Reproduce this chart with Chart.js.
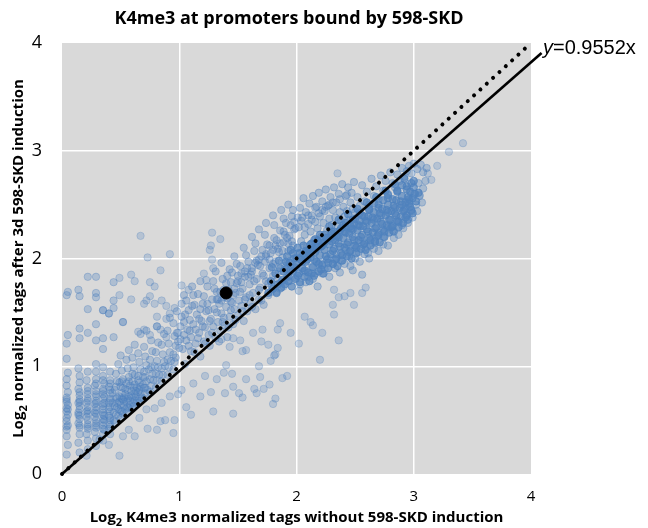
<!DOCTYPE html>
<html><head><meta charset="utf-8">
<script src="https://cdn.jsdelivr.net/npm/chart.js@4.4.1/dist/chart.umd.min.js"></script>
<style>html,body{margin:0;padding:0;background:#fff;}canvas{display:block;}</style>
</head><body>
<canvas id="c" width="648" height="528"></canvas>
<script>
// ---- Data ----
const chartTitle = "K4me3 at promoters bound by 598-SKD";
const xTitle = ["Log", "2", " K4me3 normalized tags without 598-SKD induction"];
const yTitle = ["Log", "2", " normalized tags after 3d 598-SKD induction"];
const fitLabel = ["y", "=0.9552x"];
const tickValues = [0, 1, 2, 3, 4];

// identity line y = x and fitted line y = 0.9552x (end points)
const identityLine = [[0, 0], [4, 4]];
const fitLine = [[0, 0], [4.09, 3.907]];
const highlightPt = [[1.40, 1.68]];

// low-x columns and the low cluster
const lowPts = [
[0.04,0.18],[0.05,0.27],[0.04,0.35],[0.04,0.41],[0.05,0.45],[0.04,0.49],[0.04,0.52],[0.05,0.55],[0.04,0.58],[0.04,0.61],[0.05,0.64],[0.04,0.67],[0.04,0.71],[0.05,0.76],[0.04,0.82],[0.04,0.88],[0.05,0.94],[0.04,1.07],[0.04,1.21],[0.05,1.29],[0.04,1.66],[0.05,1.69],
[0.15,0.2],[0.14,0.29],[0.15,0.37],[0.15,0.43],[0.14,0.47],[0.15,0.51],[0.15,0.54],[0.14,0.57],[0.15,0.6],[0.15,0.63],[0.14,0.66],[0.15,0.69],[0.15,0.73],[0.14,0.79],[0.15,0.85],[0.15,0.91],[0.14,0.98],[0.15,1.26],[0.15,1.35],[0.15,1.65],[0.14,1.71],
[0.22,0.23],[0.22,0.31],[0.21,0.37],[0.22,0.42],[0.22,0.46],[0.22,0.5],[0.21,0.53],[0.22,0.56],[0.22,0.59],[0.22,0.62],[0.21,0.66],[0.22,0.7],[0.22,0.74],[0.22,0.8],[0.21,0.87],[0.22,0.95],[0.22,1.31],[0.22,1.53],[0.22,1.83],
[0.29,0.26],[0.29,0.33],[0.28,0.39],[0.29,0.43],[0.29,0.47],[0.29,0.5],[0.28,0.53],[0.29,0.56],[0.29,0.59],[0.29,0.62],[0.28,0.65],[0.29,0.68],[0.29,0.72],[0.29,0.77],[0.28,0.82],[0.29,0.88],[0.29,0.95],[0.29,1.02],[0.29,1.24],[0.29,1.39],[0.29,1.64],[0.29,1.68],[0.29,1.83],
[0.35,0.31],[0.35,0.37],[0.36,0.41],[0.35,0.45],[0.35,0.48],[0.35,0.51],[0.36,0.54],[0.35,0.57],[0.35,0.6],[0.35,0.63],[0.36,0.66],[0.35,0.7],[0.35,0.74],[0.35,0.79],[0.36,0.84],[0.35,0.91],[0.35,0.99],[0.35,1.16],[0.35,1.26],[0.35,1.52],
[0.41,0.37],[0.4,0.42],[0.41,0.46],[0.41,0.5],[0.4,0.54],[0.41,0.58],[0.41,0.62],[0.4,0.66],[0.41,0.7],[0.41,0.75],[0.4,0.81],[0.41,0.87],[0.41,0.95],[0.4,1.49],[0.44,1.61],[0.44,1.78],[0.44,1.27],[0.44,1.54],
[0.04,0.44],[0.05,0.6],[0.04,0.69],[0.15,0.45],[0.14,0.55],[0.15,0.67],[0.15,0.76],[0.22,0.44],[0.21,0.58],[0.22,0.68],[0.22,0.77],[0.29,0.45],[0.28,0.57],[0.29,0.66],[0.29,0.74],[0.29,0.84],[0.35,0.42],[0.36,0.5],[0.35,0.55],[0.35,0.65],[0.36,0.72],[0.35,0.77],[0.35,0.87],[0.41,0.44],[0.41,0.52],[0.4,0.6],[0.41,0.68],[0.41,0.78],[0.41,0.84],
[0.45,0.48],[0.46,0.55],[0.47,0.62],[0.46,0.7],[0.45,0.78],[0.47,0.86],[0.46,0.93],[0.48,1.02],
[0.5,0.52],[0.51,0.58],[0.5,0.64],[0.52,0.69],[0.51,0.75],[0.5,0.81],[0.52,0.88],[0.51,0.96],[0.5,1.1],[0.52,1.41],
[0.55,0.57],[0.56,0.62],[0.55,0.67],[0.57,0.72],[0.56,0.78],[0.55,0.84],[0.57,0.9],[0.56,0.98],[0.55,1.06],[0.57,1.15],
[0.6,0.61],[0.61,0.66],[0.6,0.71],[0.62,0.75],[0.61,0.8],[0.6,0.86],[0.62,0.92],[0.61,0.99],[0.6,1.08],[0.62,1.2],
[0.65,0.66],[0.66,0.7],[0.65,0.76],[0.67,0.81],[0.66,0.85],[0.65,0.91],[0.67,0.97],[0.66,1.04],[0.65,1.12],[0.67,1.3],
[0.7,0.7],[0.71,0.75],[0.7,0.8],[0.72,0.86],[0.71,0.9],[0.7,0.95],[0.72,1.01],[0.71,1.09],[0.7,1.18],[0.72,1.33],
[0.75,0.76],[0.76,0.82],[0.75,0.88],[0.77,0.93],[0.76,0.99],[0.75,1.06],[0.77,1.14],[0.76,1.24],
[0.8,0.8],[0.81,0.87],[0.8,0.93],[0.82,0.99],[0.81,1.05],[0.8,1.13],[0.82,1.22],[0.81,1.37],
[0.85,0.86],[0.86,0.92],[0.85,0.98],[0.87,1.04],[0.86,1.11],[0.85,1.2],[0.87,1.3],
[0.9,0.92],[0.91,0.99],[0.9,1.06],[0.92,1.13],[0.91,1.21],[0.9,1.33],[0.92,1.45],
[0.95,0.97],[0.96,1.04],[0.95,1.11],[0.97,1.19],[0.96,1.28],[0.95,1.4],
[0.47,0.66],[0.49,0.72],[0.53,0.63],[0.54,0.74],[0.58,0.68],[0.59,0.77],[0.63,0.72],[0.64,0.8],[0.48,0.6],[0.52,0.8],[0.57,0.61],[0.62,0.68],[0.44,0.57],[0.43,0.66],[0.53,0.71],[0.58,0.82],[0.67,0.74],[0.69,0.83],[0.43,0.75],[0.49,0.85],
[0.44,0.5],[0.45,0.63],[0.46,0.81],[0.47,0.71],[0.48,0.54],[0.49,0.67],[0.5,0.59],[0.51,0.7],[0.51,0.86],[0.52,0.56],[0.53,0.67],[0.54,0.79],[0.54,0.6],[0.56,0.7],[0.57,0.86],[0.58,0.64],[0.59,0.73],[0.6,0.93],[0.61,0.63],[0.62,0.83],[0.63,0.77],[0.64,0.68],[0.65,0.87],[0.66,0.78],[0.68,0.71],[0.69,0.9],[0.71,0.8],[0.73,0.78],[0.74,0.97],[0.78,0.87],[0.79,1.0],[0.83,0.92],[0.88,1.0],[0.93,1.05]
];

// scattered outliers around the cloud
const sparsePts = [
[0.21,0.17],[0.32,0.32],[0.4,0.27],[0.49,0.17],[0.52,0.35],[0.57,0.41],[0.62,0.35],[0.66,0.52],[0.73,0.42],[0.79,0.61],[0.81,0.41],[0.84,0.49],[0.88,0.5],[0.95,0.38],[0.96,0.5],[0.99,0.74],[0.72,0.6],[0.92,0.72],[1.02,0.78],[1.06,0.62],[1.12,0.84],[1.18,0.72],[1.22,0.91],[1.27,0.76],[1.29,0.58],[1.32,0.88],[1.1,0.55],[0.85,0.66],
[0.67,2.21],[0.92,2.04],[0.73,2.01],[0.84,1.89],[0.59,1.85],[0.49,1.82],[0.62,1.79],[0.75,1.78],[0.79,1.74],[0.49,1.66],[0.59,1.62],[0.75,1.65],[0.72,1.61],[0.7,1.58],[0.79,1.58],[0.85,1.61],[0.89,1.56],[0.52,1.41],[0.65,1.32],[0.7,1.34],[0.81,1.46],[0.81,1.37],[0.92,1.49],[0.89,1.44],[0.96,1.54],[0.84,1.34],[0.75,1.29],[0.89,1.27],[0.99,1.31],[0.35,1.52],[0.4,1.49],
[1.28,2.24],[1.35,2.18],[1.27,2.12],[1.26,2.08],[1.28,1.99],[1.29,1.91],[1.21,1.86],[1.23,1.8],[1.02,1.75],[1.08,1.71],
[2.59,1.73],[2.56,1.68],[2.49,1.57],[2.46,1.68],[2.41,1.65],[2.36,1.64],[2.32,1.71],[2.31,1.57],[2.32,1.48],[2.36,1.24],[2.22,1.31],[2.2,1.06],[2.12,1.41],[2.14,1.38],[2.07,1.46],[2.02,1.21],[1.95,1.31],[1.89,1.74],[1.84,1.34],[1.81,1.1],[1.78,1.05],[1.84,1.17],[1.76,1.2],[1.68,1.0],[1.69,0.9],[1.77,0.83],[1.72,0.79],[1.64,0.79],[1.66,0.75],[1.57,0.88],[1.54,0.71],[1.51,0.75],[1.45,0.93],[1.39,0.75],[1.46,0.81],[1.4,1.01],[1.38,0.94],[1.88,0.89],[1.92,0.91],[1.82,0.7],[1.8,0.65],[1.46,0.56],[1.63,1.31],[1.7,1.23],[1.71,1.34],[1.57,1.15],[1.54,1.14],[1.52,1.24],[1.46,1.26],[1.36,1.25],[1.43,1.18],[1.86,1.4],[1.82,1.11],
[3.42,3.07],[3.3,2.99],[2.35,2.79],[3.2,2.86],[3.15,2.73],[3.12,2.79],[3.05,2.59]
];

// middle cloud (x 1 to 2.4)
const midPts = [
[0.97,1.08],[0.99,1.23],[1.01,1.37],[0.98,1.51],[1.03,1.16],[1.04,1.29],[1.02,1.46],[1.06,1.61],[1.05,1.02],[1.08,1.19],[1.07,1.34],[1.09,1.43],[1.1,1.27],[1.11,1.56],[1.13,1.13],[1.12,1.39],[1.14,1.21],[1.15,1.48],[1.16,1.67],[1.17,1.31],[1.18,1.09],[1.19,1.42],[1.2,1.58],[1.21,1.23],[1.22,1.36],[1.23,1.51],[1.24,1.74],[1.25,1.29],[1.26,1.19],[1.27,1.44],[1.28,1.62],[1.29,1.37],[1.3,1.53],[1.31,1.26],[1.32,1.69],[1.33,1.41],[1.34,1.58],[1.35,1.33],[1.36,1.49],[1.37,1.81],[1.38,1.64],[1.39,1.38],[1.4,1.55],[1.41,1.27],[1.42,1.71],[1.43,1.46],[1.44,1.6],[1.45,1.87],[1.46,1.39],[1.47,1.53],[1.48,1.68],[1.49,1.77],[1.5,1.47],[1.51,1.61],[1.52,1.93],[1.53,1.56],[1.54,1.72],[1.55,1.42],[1.56,1.83],[1.57,1.64],[1.58,1.51],[1.59,1.97],[1.6,1.76],[1.61,1.59],[1.62,1.88],[1.63,1.68],[1.64,2.07],[1.65,1.53],[1.66,1.81],[1.67,1.94],[1.68,1.62],[1.69,1.73],[1.7,2.02],[1.71,1.86],[1.72,1.57],[1.73,1.97],[1.74,1.79],[1.75,2.13],[1.76,1.66],[1.77,1.91],[1.78,2.05],[1.79,1.74],[1.8,1.84],[1.81,2.19],[1.82,1.97],[1.83,1.69],[1.84,2.09],[1.85,1.88],[1.86,2.26],[1.87,1.78],[1.88,2.01],[1.89,2.15],[1.9,1.93],[1.91,2.33],[1.92,1.84],[1.93,2.07],[1.94,2.21],[1.95,1.98],[1.96,2.39],[1.97,2.12],[1.98,1.91],[1.99,2.28],
[0.98,1.31],[1.0,1.17],[1.02,1.58],[1.04,1.41],[1.06,1.24],[1.08,1.52],[1.1,1.14],[1.12,1.66],[1.14,1.34],[1.16,1.26],[1.18,1.53],[1.2,1.37],[1.22,1.21],[1.24,1.58],[1.26,1.42],[1.28,1.31],[1.3,1.72],[1.32,1.5],[1.34,1.23],[1.36,1.61],[1.38,1.45],[1.4,1.77],[1.42,1.36],[1.44,1.52],[1.46,1.66],[1.48,1.43],[1.5,1.84],[1.52,1.69],[1.54,1.51],[1.56,1.62],[1.58,1.91],[1.6,1.66],[1.62,1.55],[1.64,1.79],[1.66,1.98],[1.68,1.71],[1.7,1.61],[1.72,1.84],[1.74,2.04],[1.76,1.77],[1.78,1.69],[1.8,1.95],[1.82,2.12],[1.84,1.81],[1.86,1.72],[1.88,2.07],[1.9,2.22],[1.92,1.95],[1.94,1.79],[1.96,2.16],[1.98,2.34],
[1.01,1.25],[1.05,1.48],[1.09,1.33],[1.13,1.57],[1.17,1.44],[1.21,1.65],[1.25,1.52],[1.29,1.79],[1.33,1.62],[1.37,1.41],[1.41,1.84],[1.45,1.59],[1.49,1.95],[1.53,1.78],[1.57,2.03],[1.61,1.85],[1.65,2.14],[1.69,1.93],[1.73,2.22],[1.77,1.99],[1.81,2.31],[1.85,2.06],[1.89,2.37],[1.93,2.14],[1.97,2.45],
[1.47,2.02],[1.55,2.1],[1.62,2.2],[1.68,2.27],[1.74,2.33],[1.8,2.4],[1.87,2.45],[1.93,2.5],[1.36,1.96],[1.43,1.9],[1.31,1.88],[1.18,1.79],[1.11,1.74],[1.04,1.66],
[1.32,1.62],[1.38,1.71],[1.44,1.78],[1.5,1.79],[1.56,1.88],[1.62,1.91],[1.68,1.99],[1.74,2.02],[1.8,2.08],[1.86,2.14],[1.92,2.19],[1.98,2.27],[2.04,2.35],[2.1,2.4],[2.16,2.47],[2.22,2.45],[2.28,2.5],[1.35,1.69],[1.41,1.63],[1.47,1.72],[1.53,1.86],[1.59,1.83],[1.65,1.96],[1.71,2.08],[1.77,2.12],[1.83,2.17],[1.89,2.25],[1.95,2.31],[2.01,2.38],[2.07,2.29],[2.13,2.36],[2.19,2.42],[2.25,2.48],[2.31,2.52],[2.37,2.55],[2.43,2.59]
];

// upper and lower flanks of the main band (x 2 to 3.1)
const bandPts = [
[2.01,2.05],[2.02,2.29],[2.03,2.47],[2.04,2.16],[2.05,2.38],[2.06,2.56],[2.07,2.22],[2.08,2.43],[2.09,2.11],[2.1,2.32],[2.11,2.51],[2.12,2.25],[2.13,2.4],[2.14,2.58],[2.15,2.17],[2.16,2.34],[2.17,2.48],[2.18,2.28],[2.19,2.61],[2.2,2.39],[2.21,2.2],[2.22,2.53],[2.23,2.33],[2.24,2.44],[2.25,2.64],[2.26,2.26],[2.27,2.49],[2.28,2.37],[2.29,2.57],[2.3,2.31],[2.31,2.45],[2.32,2.66],[2.33,2.38],[2.34,2.52],[2.35,2.29],[2.36,2.6],[2.37,2.43],[2.38,2.35],[2.39,2.69],[2.4,2.48],[2.41,2.39],[2.42,2.58],[2.43,2.44],[2.44,2.66],[2.45,2.36],[2.46,2.52],[2.47,2.61],[2.48,2.46],[2.49,2.71],[2.5,2.43],[2.52,2.57],[2.54,2.49],[2.56,2.68],[2.58,2.53],[2.6,2.62],[2.62,2.5],[2.64,2.74],[2.66,2.58],[2.68,2.67],[2.7,2.55],[2.72,2.77],[2.74,2.63],[2.76,2.72],[2.78,2.6],[2.8,2.8],[2.82,2.7],[2.84,2.66],[2.86,2.78],[2.88,2.72],[2.9,2.84],[2.92,2.76],[2.94,2.81],[2.96,2.86],[2.98,2.79],[3.0,2.88],[3.03,2.83],[3.06,2.87],[3.08,2.8],[3.11,2.84],
[2.0,1.82],[2.03,1.76],[2.06,1.88],[2.1,1.83],[2.13,1.92],[2.16,1.86],[2.2,1.96],[2.24,1.9],[2.27,2.0],[2.31,1.95],[2.34,2.04],[2.38,1.98],[2.42,2.08],[2.45,2.02],[2.49,2.12],[2.53,2.06],[2.56,2.16],[2.6,2.11],[2.63,2.2],[2.67,2.15],[2.7,2.24],[2.74,2.2],[2.78,2.29],[2.82,2.26],[2.86,2.34],[2.9,2.31],[2.94,2.4],[2.98,2.44],[3.02,2.5],[3.05,2.58],[3.08,2.65],[3.1,2.72],[3.0,2.6],[2.96,2.53],[3.04,2.7],[2.48,1.89],[2.56,1.85],[2.61,2.05],[2.67,2.14],[2.8,2.31],[2.93,2.47],
[2.02,1.7],[2.08,1.78],[2.14,1.81],[2.18,1.74],[2.22,1.86],[2.28,1.83],[2.33,1.91],[2.37,1.87],[2.41,1.95],[2.46,1.93],[2.5,2.0],[2.54,1.97],[2.58,2.04],[2.62,2.0],[2.66,2.09],[2.7,2.07],[2.74,2.13],[2.78,2.12],[2.83,2.19],[2.87,2.22],[2.91,2.28],[2.95,2.33],[2.99,2.38],[3.03,2.44],[3.07,2.52]
];

// saturated core of the main band
const corePts = [
[1.9,1.76],[1.91,1.9],[1.92,2.02],[1.93,1.83],[1.94,1.96],[1.95,2.08],[1.96,1.74],[1.97,1.88],[1.98,2.0],[1.99,1.81],[2.0,1.94],[2.01,2.1],[2.02,1.86],[2.03,1.78],[2.04,2.01],[2.05,1.91],[2.06,2.12],[2.07,1.83],[2.08,1.97],[2.09,2.06],[2.1,1.87],[2.11,1.79],[2.12,2.01],[2.13,2.14],[2.14,1.92],[2.15,1.84],[2.16,2.06],[2.17,1.97],[2.18,2.17],[2.19,1.88],[2.2,2.03],[2.21,2.11],[2.22,1.94],[2.23,1.86],[2.24,2.08],[2.25,2.19],[2.26,1.99],[2.27,1.91],[2.28,2.13],[2.29,2.04],[2.3,2.23],[2.31,1.95],[2.32,2.09],[2.33,2.17],[2.34,2.0],[2.35,1.93],[2.36,2.14],[2.37,2.26],[2.38,2.05],[2.39,1.98],[2.4,2.19],[2.41,2.1],[2.42,2.29],[2.43,2.02],[2.44,2.15],[2.45,2.23],[2.46,2.07],[2.47,2.0],[2.48,2.2],[2.49,2.32],[2.5,2.12],[2.51,2.05],[2.52,2.26],[2.53,2.17],[2.54,2.35],[2.55,2.09],[2.56,2.22],[2.57,2.3],[2.58,2.14],[2.59,2.08],[2.6,2.27],[2.61,2.39],[2.62,2.19],[2.63,2.12],[2.64,2.33],[2.65,2.24],[2.66,2.43],[2.67,2.16],[2.68,2.29],[2.69,2.37],[2.7,2.22],[2.71,2.15],[2.72,2.34],[2.73,2.46],[2.74,2.27],[2.75,2.2],[2.76,2.4],[2.77,2.31],[2.78,2.5],[2.79,2.24],[2.8,2.36],[2.81,2.44],[2.82,2.3],[2.83,2.25],[2.84,2.42],[2.85,2.54],[2.86,2.35],[2.87,2.29],[2.88,2.47],[2.89,2.39],[2.9,2.58],[2.91,2.33],[2.92,2.45],[2.93,2.52],[2.94,2.4],[2.95,2.36],[2.96,2.51],[2.97,2.62],[2.98,2.45],[2.99,2.56],[3.0,2.66],[3.02,2.53],[3.04,2.61],
[1.91,1.97],[1.93,1.79],[1.95,1.89],[1.97,2.05],[1.99,1.92],[2.01,1.84],[2.03,2.05],[2.05,1.97],[2.07,1.89],[2.09,1.99],[2.11,2.08],[2.13,1.86],[2.15,1.99],[2.17,2.11],[2.19,1.95],[2.21,1.9],[2.23,2.15],[2.25,2.02],[2.27,1.96],[2.29,2.19],[2.31,2.07],[2.33,1.99],[2.35,2.21],[2.37,2.11],[2.39,2.03],[2.41,2.25],[2.43,2.13],[2.45,2.06],[2.47,2.28],[2.49,2.17],[2.51,2.1],[2.53,2.31],[2.55,2.2],[2.57,2.13],[2.59,2.35],[2.61,2.25],[2.63,2.17],[2.65,2.38],[2.67,2.28],[2.69,2.21],[2.71,2.42],[2.73,2.32],[2.75,2.25],[2.77,2.45],[2.79,2.36],[2.81,2.29],[2.83,2.49],[2.85,2.4],[2.87,2.34],[2.89,2.53],[2.91,2.44],[2.93,2.38],[2.95,2.57],[2.97,2.48],[2.99,2.42],[3.01,2.6],
[2.0,2.0],[2.06,2.04],[2.12,2.08],[2.18,2.1],[2.24,2.15],[2.3,2.16],[2.36,2.2],[2.42,2.24],[2.48,2.27],[2.54,2.3],[2.6,2.34],[2.66,2.36],[2.72,2.4],[2.78,2.43],[2.84,2.47],[2.9,2.5],[2.96,2.55],[2.62,2.45],[2.7,2.5],[2.78,2.56],[2.86,2.62],[2.94,2.67],[3.0,2.72],[2.56,2.4],[2.48,2.36],[2.4,2.31],[2.32,2.25],[2.24,2.22],[2.16,2.18],
[2.1,2.05],[2.14,2.1],[2.18,2.16],[2.22,2.12],[2.26,2.19],[2.3,2.25],[2.34,2.21],[2.38,2.28],[2.42,2.33],[2.46,2.3],[2.5,2.37],[2.54,2.42],[2.58,2.39],[2.62,2.46],[2.66,2.51],[2.7,2.47],[2.74,2.54],[2.78,2.59],[2.82,2.55],[2.86,2.63],[2.9,2.68],[2.94,2.64],[2.98,2.7],[2.2,2.22],[2.28,2.3],[2.36,2.36],[2.44,2.41],[2.52,2.46],[2.6,2.52],[2.68,2.57],[2.76,2.63],[2.84,2.69],[2.92,2.74],[2.04,1.99],[2.08,2.07],[2.12,2.13],
[1.76,1.68],[1.78,1.79],[1.8,1.72],[1.82,1.86],[1.84,1.76],[1.86,1.91],[1.88,1.8],[1.79,1.92],[1.85,1.98],[1.89,1.88],[1.83,1.68],[1.87,1.73]
];

// ---- Chart ----
const toXY = a => a.map(p => ({x: p[0], y: p[1]}));
const FONT = "'Open Sans', 'DejaVu Sans', sans-serif";
const BLUE = a => `rgba(79,129,189,${a})`;

const bgPlugin = {
  id: 'plotBg',
  beforeDraw(chart) {
    const {ctx, chartArea: a} = chart;
    ctx.save();
    ctx.fillStyle = '#d9d9d9';
    ctx.fillRect(a.left, a.top, a.right - a.left, a.bottom - a.top);
    ctx.restore();
  }
};

function drawRich(ctx, parts, cx, cy, size) {
  const sub = Math.round(size * 0.7);
  ctx.font = `bold ${size}px ${FONT}`;
  const w0 = ctx.measureText(parts[0]).width;
  const w2 = ctx.measureText(parts[2]).width;
  ctx.font = `bold ${sub}px ${FONT}`;
  const w1 = ctx.measureText(parts[1]).width;
  let x = cx - (w0 + w1 + w2) / 2;
  ctx.textBaseline = 'alphabetic';
  ctx.textAlign = 'left';
  ctx.font = `bold ${size}px ${FONT}`;
  ctx.fillText(parts[0], x, cy); x += w0;
  ctx.font = `bold ${sub}px ${FONT}`;
  ctx.fillText(parts[1], x, cy + size * 0.25); x += w1;
  ctx.font = `bold ${size}px ${FONT}`;
  ctx.fillText(parts[2], x, cy);
}

const textPlugin = {
  id: 'texts',
  afterDraw(chart) {
    const {ctx, chartArea: a} = chart;
    ctx.save();
    ctx.fillStyle = '#000';
    ctx.font = `bold 18px ${FONT}`;
    ctx.textAlign = 'center';
    ctx.textBaseline = 'middle';
    ctx.fillText(chartTitle, 289, 19);
    drawRich(ctx, xTitle, (a.left + a.right) / 2, 522, 15);
    ctx.save();
    ctx.translate(23, (a.top + a.bottom) / 2);
    ctx.rotate(-Math.PI / 2);
    drawRich(ctx, yTitle, 0, 0, 15);
    ctx.restore();
    ctx.textAlign = 'left';
    ctx.textBaseline = 'alphabetic';
    ctx.font = `italic 20px 'Liberation Sans', Arial, sans-serif`;
    ctx.fillText(fitLabel[0], 543, 54);
    const wy = ctx.measureText(fitLabel[0]).width;
    ctx.font = `20px 'Liberation Sans', Arial, sans-serif`;
    ctx.fillText(fitLabel[1], 543 + wy, 54);
    ctx.restore();
  }
};

const gridColor = c => (c.tick && (c.tick.value === 0 || c.tick.value === 4)) ? 'rgba(0,0,0,0)' : '#ffffff';
const scatterSet = (pts, a, order) => ({ data: toXY(pts), pointRadius: 3.7, pointBackgroundColor: BLUE(a), pointBorderColor: BLUE(Math.min(1, a + 0.02)), pointBorderWidth: 1, order });

new Chart(document.getElementById('c').getContext('2d'), {
  type: 'scatter',
  data: {
    datasets: [
      { type: 'scatter', data: toXY(highlightPt), pointRadius: 6, pointBackgroundColor: '#000', pointBorderColor: '#000', order: 0 },
      { type: 'line', data: toXY(fitLine), borderColor: '#000', borderWidth: 2.6, pointRadius: 0, clip: false, order: 1 },
      { type: 'line', data: toXY(identityLine), borderColor: '#000', borderWidth: 4, borderDash: [0.01, 8.6], borderCapStyle: 'round', pointRadius: 0, clip: false, order: 1 },
      scatterSet(corePts, 0.68, 2),
      scatterSet(bandPts, 0.36, 3),
      scatterSet(midPts, 0.33, 4),
      scatterSet(lowPts, 0.31, 5),
      scatterSet(sparsePts, 0.26, 6)
    ]
  },
  options: {
    responsive: false,
    animation: false,
    layout: { padding: { top: 43, right: 117, left: 0, bottom: 0 } },
    plugins: { legend: { display: false }, tooltip: { enabled: false }, title: { display: false } },
    scales: {
      x: {
        type: 'linear', min: 0, max: 4,
        afterBuildTicks: s => { s.ticks = tickValues.map(v => ({value: v})); },
        afterFit: s => { s.height = 54; },
        ticks: { color: '#000', font: { family: FONT, size: 15 }, padding: 14 },
        grid: { color: gridColor, lineWidth: 1.5, drawTicks: false },
        border: { display: false }
      },
      y: {
        type: 'linear', min: 0, max: 4,
        afterBuildTicks: s => { s.ticks = tickValues.map(v => ({value: v})); },
        afterFit: s => { s.width = 62; },
        ticks: { color: '#000', font: { family: FONT, size: 18 }, padding: 20 },
        grid: { color: gridColor, lineWidth: 1.5, drawTicks: false },
        border: { display: false }
      }
    }
  },
  plugins: [bgPlugin, textPlugin]
});
</script>
</body></html>
